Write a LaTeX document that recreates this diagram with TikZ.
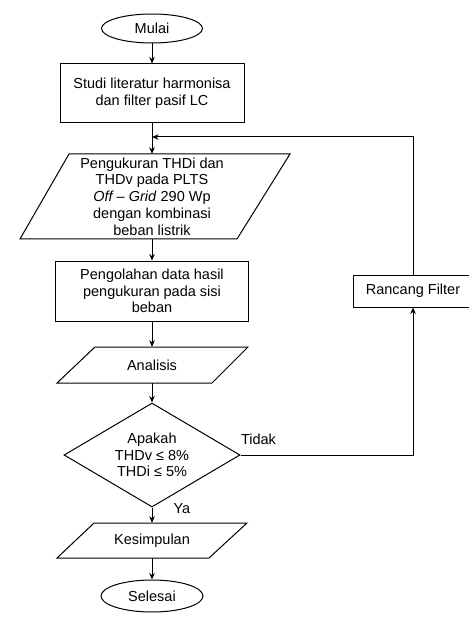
\documentclass[tikz,border=0pt]{standalone}
\usepackage{fontspec}
\setmainfont{Liberation Sans}
\usetikzlibrary{arrows.meta,shapes.geometric}
\begin{document}
\begin{tikzpicture}[x=1pt,y=-1pt,
  every node/.style={font=\fontsize{14.5}{16.7}\selectfont, align=center, inner sep=0pt},
  line/.style={line width=1pt},
  box/.style={draw, line width=1pt},
  term/.style={draw, ellipse, line width=1pt},
  arr/.style={line, -{Stealth[length=6.5pt,width=5.5pt]}}]
\useasboundingbox (0,0) rectangle (468,617);
\node[term, minimum width=101pt, minimum height=29pt] (mulai) at (152,28.5) {Mulai};
\node[box, minimum width=184pt, minimum height=59pt] (studi) at (152,93.5) {Studi literatur harmonisa\\dan filter pasif LC};
\coordinate (join) at (152,137);
\node[minimum width=180pt, minimum height=85pt] (ukur) at (152,196.5) {Pengukuran THDi dan\\THDv pada PLTS\\\textit{Off – Grid} 290 Wp\\dengan kombinasi\\beban listrik};
\draw[line] (69,154) -- (290,154) -- (237,239) -- (20,239) -- cycle;
\node[box, minimum width=193pt, minimum height=60pt] (olah) at (152,291) {Pengolahan data hasil\\pengukuran pada sisi\\beban};
\node[minimum width=120pt, minimum height=36pt] (ana) at (152,365) {Analisis};
\draw[line] (95,347) -- (248,347) -- (212,383) -- (57,383) -- cycle;
\node[draw, line width=1pt, shape=diamond, aspect=1.7, minimum width=176pt, minimum height=104pt] (dec) at (152,455) {Apakah\\THDv ≤ 8\%\\THDi ≤ 5\%};
\node[minimum width=120pt, minimum height=35pt] (kes) at (152,540.5) {Kesimpulan};
\draw[line] (94,523) -- (247,523) -- (209,558) -- (57,558) -- cycle;
\node[term, minimum width=102pt, minimum height=32pt] (selesai) at (152,596) {Selesai};
\node[box, minimum width=120pt, minimum height=32pt] (rancang) at (413,291) {Rancang Filter};
\coordinate (c1) at (413,455);
\coordinate (c2) at (413,137);
\draw[arr] (mulai) -- (studi);
\draw[arr] (studi) -- (ukur);
\draw[arr] (ukur) -- (olah);
\draw[arr] (olah) -- (ana);
\draw[arr] (ana) -- (dec);
\draw[arr] (dec) -- node[pos=0, anchor=base west, xshift=21pt, yshift=-6pt] {Ya} (kes);
\draw[arr] (kes) -- (selesai);
\draw[arr] (dec.east) -- node[pos=0, anchor=south west, xshift=0pt, yshift=10pt] {Tidak} (c1) -- (rancang.south);
\draw[arr] (rancang.north) -- (c2) -- (join);
\end{tikzpicture}
\end{document}
